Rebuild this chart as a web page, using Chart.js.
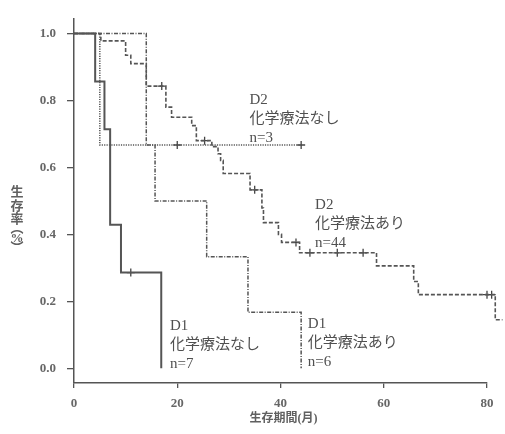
<!DOCTYPE html>
<html>
<head>
<meta charset="utf-8">
<script src="https://cdn.jsdelivr.net/npm/chart.js@4"></script>
<style>
html, body { margin: 0; padding: 0; background: #fff; }
#wrap { width: 505px; height: 434px; }
</style>
</head>
<body>
<div id="wrap"><canvas id="km"></canvas></div>
<script>
var xTicks = [0, 20, 40, 60, 80];
var yTicks = [0, 0.2, 0.4, 0.6, 0.8, 1.0];

// D1 化学療法なし n=7
var d1NashiT = [0, 4.1, 5.9, 7.0, 9.1, 16.9];
var d1NashiS = [1, 0.857, 0.714, 0.429, 0.286, 0];
var d1NashiCensT = [11.0];
var d1NashiCensS = [0.286];

// D1 化学療法あり n=6
var d1AriT = [0, 14.0, 15.7, 25.7, 33.7, 44.0];
var d1AriS = [1, 0.667, 0.5, 0.333, 0.167, 0];

// D2 化学療法なし n=3
var d2NashiT = [0, 5.0, 44.0];
var d2NashiS = [1, 0.667, 0.667];
var d2NashiCensT = [20.0, 44.0];
var d2NashiCensS = [0.667, 0.667];

// D2 化学療法あり n=44
var d2AriT = [0, 5.2, 10.0, 11.0, 14.0, 17.8, 18.9, 22.8, 23.7, 26.7, 27.9, 28.4, 28.9, 34.1, 36.4, 36.7, 39.6, 40.2, 43.7, 58.6, 65.8, 66.7, 81.6, 83.0];
var d2AriS = [1, 0.978, 0.935, 0.91, 0.843, 0.78, 0.75, 0.725, 0.68, 0.662, 0.641, 0.621, 0.582, 0.533, 0.479, 0.435, 0.40, 0.376, 0.345, 0.306, 0.259, 0.22, 0.145, 0.145];
var d2AriCensT = [17.0, 25.3, 35.0, 43.0, 45.7, 51.0, 56.0, 80.0, 80.9];
var d2AriCensS = [0.843, 0.68, 0.533, 0.376, 0.345, 0.345, 0.345, 0.22, 0.22];

// group labels (anchored in data units)
var groupText = [
    ['D2', '化学療法なし', 'n=3'],
    ['D2', '化学療法あり', 'n=44'],
    ['D1', '化学療法あり', 'n=6'],
    ['D1', '化学療法なし', 'n=7']
];
var groupLabelT = [34.0, 46.7, 45.3, 18.6];
var groupLabelS = [0.80, 0.489, 0.132, 0.126];

var xTitle = '生存期間(月)';
var yTitleChars = ['生', '存', '率', '︵', '%', '︶'];
var yTitleGap = [0, 14, 27, 36, 46, 56];

var ink = '#555';
var serif = '"Liberation Serif", "Noto Sans CJK JP", serif';

function pts(t, s) {
    return t.map(function(v, i) { return { x: v, y: s[i] }; });
}

function curve(t, s, dash, width) {
    return {
        type: 'line',
        data: pts(t, s),
        stepped: true,
        borderColor: ink,
        borderWidth: width,
        borderDash: dash,
        pointRadius: 0,
        fill: false,
        clip: false
    };
}

function censor(t, s) {
    return {
        type: 'scatter',
        data: pts(t, s),
        pointStyle: 'cross',
        pointRadius: 4,
        borderColor: '#444',
        borderWidth: 1.3,
        backgroundColor: ink,
        clip: false
    };
}

var textPlugin = {
    id: 'kmText',
    afterDraw: function(chart) {
        var ctx = chart.ctx;
        var xs = chart.scales.x, ys = chart.scales.y;
        ctx.save();
        ctx.fillStyle = '#505050';
        ctx.textBaseline = 'middle';
        ctx.textAlign = 'left';
        ctx.font = '15px ' + serif;
        groupText.forEach(function(lines, g) {
            var px = xs.getPixelForValue(groupLabelT[g]);
            var py = ys.getPixelForValue(groupLabelS[g]);
            lines.forEach(function(line, k) {
                ctx.fillText(line, px, py + k * 19);
            });
        });

        // x title
        ctx.fillStyle = '#606060';
        ctx.textAlign = 'center';
        ctx.font = 'bold 12px ' + serif;
        ctx.fillText(xTitle, (chart.chartArea.left + chart.chartArea.right) / 2 + 3, 419);

        // y title (vertical)
        ctx.font = 'bold 13px ' + serif;
        yTitleChars.forEach(function(ch, k) {
            ctx.fillText(ch, 17, 193 + yTitleGap[k]);
        });
        ctx.restore();
    }
};

new Chart(document.getElementById('km'), {
    type: 'line',
    data: {
        datasets: [
            curve(d2AriT, d2AriS, [4, 2], 1.6),
            curve(d2NashiT, d2NashiS, [1.2, 1.2], 1.5),
            curve(d1AriT, d1AriS, [4, 1.5, 1, 1.5], 1.5),
            curve(d1NashiT, d1NashiS, [], 2),
            censor(d2AriCensT, d2AriCensS),
            censor(d2NashiCensT, d2NashiCensS),
            censor(d1NashiCensT, d1NashiCensS)
        ]
    },
    options: {
        responsive: true,
        maintainAspectRatio: false,
        animation: false,
        layout: { padding: { top: 13, right: 18, left: 0, bottom: 0 } },
        plugins: {
            legend: { display: false },
            tooltip: { enabled: false }
        },
        scales: {
            x: {
                type: 'linear',
                bounds: 'data',
                afterDataLimits: function(s) { s.min = 0; s.max = 80; },
                afterBuildTicks: function(s) { s.ticks = xTicks.map(function(v) { return { value: v }; }); },
                afterFit: function(s) { s.height = 51; },
                grid: { display: true, drawOnChartArea: false, drawTicks: true, tickLength: 5, color: ink, lineWidth: 1.3 },
                border: { display: true, color: ink, width: 1.5 },
                ticks: { color: '#666', font: { family: serif, size: 13, weight: 'bold' }, padding: 8, maxRotation: 0 }
            },
            y: {
                type: 'linear',
                min: -0.044,
                max: 1.044,
                afterBuildTicks: function(s) { s.ticks = yTicks.map(function(v) { return { value: v }; }); },
                afterFit: function(s) { s.width = 74; },
                grid: { display: true, drawOnChartArea: false, drawTicks: true, tickLength: 7, color: ink, lineWidth: 1.3 },
                border: { display: true, color: ink, width: 1.5 },
                ticks: {
                    color: '#666',
                    font: { family: serif, size: 13, weight: 'bold' },
                    padding: 11,
                    callback: function(v) { return Number(v).toFixed(1); }
                }
            }
        }
    },
    plugins: [textPlugin]
});
</script>
</body>
</html>
